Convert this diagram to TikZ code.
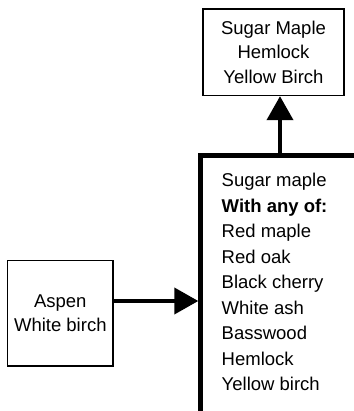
\documentclass[tikz,border=0pt]{standalone}
\usepackage{fontspec}
\setmainfont{Liberation Sans}
\usetikzlibrary{arrows.meta}

\tikzset{
  standbox/.style={draw, line width=1.3pt, align=center, inner sep=0pt,
    font=\fontsize{18.5}{24.5}\selectfont},
  bigarrow/.style={line width=4pt, -{Triangle[length=24pt,width=26pt]}},
  wall/.style={line width=5pt, line join=miter},
}

\begin{document}
\begin{tikzpicture}[x=1pt, y=-1pt]
  \useasboundingbox (0,0) rectangle (353,411);

  % Boxes
  \node[standbox, minimum width=141pt, minimum height=86.5pt] (climax) at (273.5,52.3)
    {Sugar Maple\\Hemlock\\Yellow Birch};
  \node[standbox, minimum width=105.5pt, minimum height=105.5pt] (pioneer) at (60.3,313.3)
    {Aspen\\White birch};

  % Thick bracket round the mixed stand
  \coordinate (corner) at (200.8,155.5);
  \draw[wall] (356,155.5) -- (corner) -- (200.8,414);
  \coordinate (entry) at (198.3,301);
  \coordinate (exit) at (280,153);

  % Mixed stand list (base anchor sits on the last line)
  \node[anchor=base west, inner sep=0pt, align=left,
        font=\fontsize{18.5}{25.5}\selectfont] (mixed) at (221.5,390.7)
    {Sugar maple\\\textbf{With any of:}\\Red maple\\Red oak\\Black cherry\\White ash\\Basswood\\Hemlock\\Yellow birch};

  % Arrows
  \draw[bigarrow] (pioneer.east |- entry) -- (entry);
  \draw[bigarrow] (exit) -- (climax.south -| exit);
\end{tikzpicture}
\end{document}
